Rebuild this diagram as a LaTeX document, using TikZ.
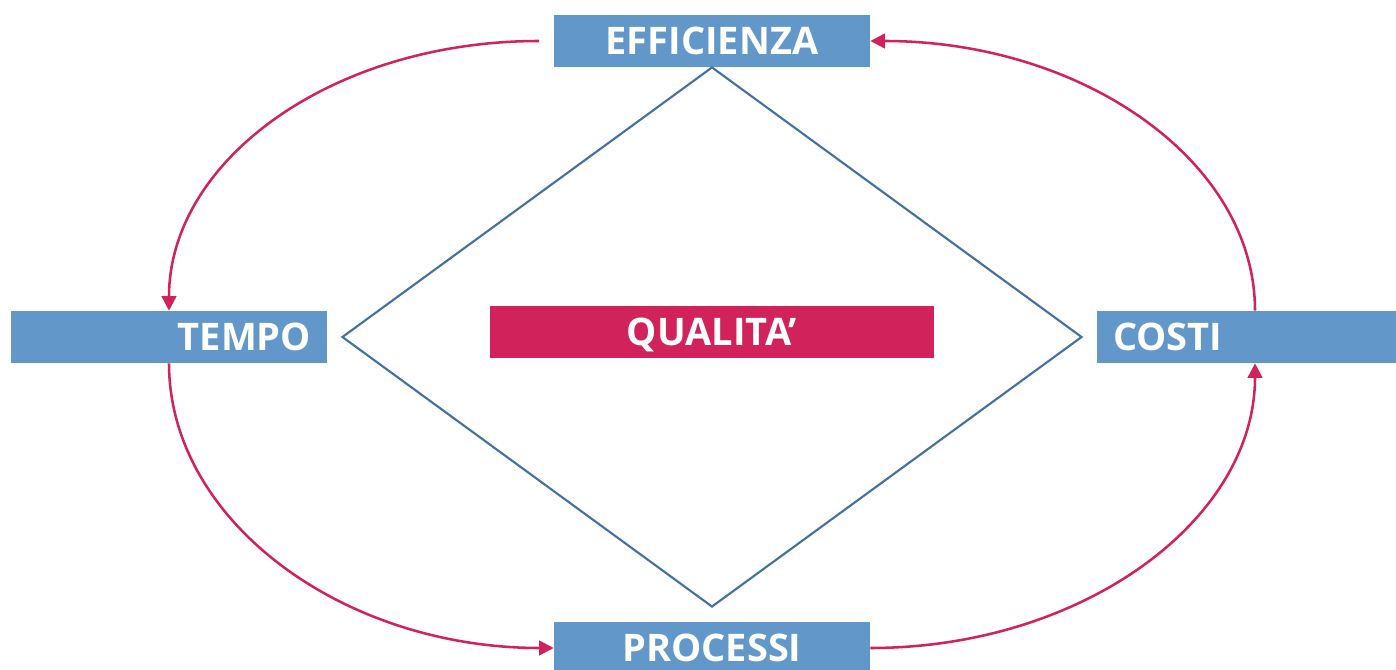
\documentclass[tikz,border=0pt]{standalone}
\usepackage{fontspec}
\setmainfont{Open Sans}
\usetikzlibrary{arrows.meta, shapes.geometric}

\definecolor{boxblue}{HTML}{6297C9}
\definecolor{qred}{HTML}{D2225B}
\definecolor{rombo}{HTML}{44719F}

\begin{document}
\begin{tikzpicture}[
            > = {Triangle[length=11pt, width=11pt]}, % arrow head style
            x = 0.75pt, % one pixel of the sketch
            y = -0.75pt,
            font = \fontsize{28.5pt}{30pt}\selectfont\bfseries
        ]

        \clip (0,0) rectangle (1396,670);

        \tikzstyle{box}=[
            fill = boxblue,
            text = white,
            text width = 213pt,
            inner xsep = 12pt,
            inner ysep = 0pt,
            minimum height = 39pt,
            text height = 20.5pt,
            text depth = 0pt
        ]

        \tikzstyle{freccia}=[
            draw = qred,
            line width = 1.9pt,
            ->
        ]

        \node[box, align=center] (eff) at (712,41) {EFFICIENZA};
        \node[box, align=right] (tempo) at (169,337) {TEMPO};
        \node[box, align=left] (costi) at (1255,337) {COSTI};
        \node[box, align=center] (proc) at (712,648) {PROCESSI};

        \node[diamond, draw = rombo, line width = 1.6pt,
            minimum width = 555pt, minimum height = 405pt,
            inner sep = 0pt] (rombo) at (712,337) {};

        \node[fill = qred, text = white, minimum width = 333pt,
            minimum height = 39pt, inner sep = 0pt,
            text height = 20.5pt, text depth = 0pt] (qual) at (712,332) {QUALITA’};

        \draw[freccia, shorten < = 11pt] (eff.west)
            .. controls +(-222,0) and +(0,-150) .. (tempo.north);
        \draw[freccia] (tempo.south)
            .. controls +(0,157) and +(-212,0) .. (proc.west);
        \draw[freccia] (proc.east)
            .. controls +(212,0) and +(0,157) .. (costi.south);
        \draw[freccia] (costi.north)
            .. controls +(0,-150) and +(212,0) .. (eff.east);

    \end{tikzpicture}
\end{document}
